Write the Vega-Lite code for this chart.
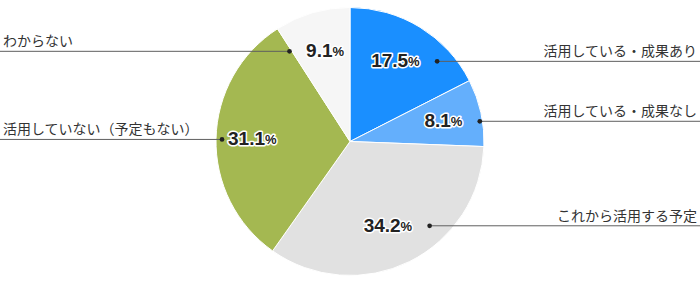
{
  "$schema": "https://vega.github.io/schema/vega-lite/v6.json",
  "width": 700,
  "height": 283,
  "padding": 0,
  "autosize": {"type": "none"},
  "background": "white",
  "config": {"view": {"stroke": null}},
  "data": {
    "values": [
      {"category": "活用している・成果あり", "value": 17.5, "rank": 1},
      {"category": "活用している・成果なし", "value": 8.1, "rank": 2},
      {"category": "これから活用する予定", "value": 34.2, "rank": 3},
      {"category": "活用していない（予定もない）", "value": 31.1, "rank": 4},
      {"category": "わからない", "value": 9.1, "rank": 5}
    ]
  },
  "layer": [
    {
      "mark": {"type": "arc", "outerRadius": 134, "stroke": "white", "strokeWidth": 1},
      "encoding": {
        "theta": {"field": "value", "type": "quantitative", "stack": true},
        "order": {"field": "rank", "type": "quantitative"},
        "color": {
          "field": "category",
          "type": "nominal",
          "legend": null,
          "scale": {
            "domain": ["活用している・成果あり", "活用している・成果なし", "これから活用する予定", "活用していない（予定もない）", "わからない"],
            "range": ["#1a8fff", "#64affc", "#e1e1e1", "#a4b851", "#f6f6f6"]
          }
        }
      }
    },
    {
      "transform": [
        {"joinaggregate": [{"op": "sum", "field": "value", "as": "total"}]},
        {"window": [{"op": "sum", "field": "value", "as": "cum"}], "sort": [{"field": "rank", "order": "ascending"}], "frame": [null, 0]},
        {"filter": "datum.cum - datum.value/2 <= datum.total/2"}
      ],
      "mark": {"type": "rule", "color": "#5f5f5f", "strokeWidth": 1},
      "encoding": {
        "x": {"value": {"expr": "width/2 + 94*sin(2*PI*(datum.cum - datum.value/2)/datum.total) + 38"}},
        "x2": {"value": "width"},
        "y": {"value": {"expr": "height/2 - 94*cos(2*PI*(datum.cum - datum.value/2)/datum.total)"}}
      }
    },
    {
      "transform": [
        {"joinaggregate": [{"op": "sum", "field": "value", "as": "total"}]},
        {"window": [{"op": "sum", "field": "value", "as": "cum"}], "sort": [{"field": "rank", "order": "ascending"}], "frame": [null, 0]},
        {"filter": "datum.cum - datum.value/2 > datum.total/2"}
      ],
      "mark": {"type": "rule", "color": "#5f5f5f", "strokeWidth": 1},
      "encoding": {
        "x": {"value": {"expr": "width/2 + 94*sin(2*PI*(datum.cum - datum.value/2)/datum.total) - 34"}},
        "x2": {"value": 0},
        "y": {"value": {"expr": "height/2 - 94*cos(2*PI*(datum.cum - datum.value/2)/datum.total)"}}
      }
    },
    {
      "transform": [
        {"joinaggregate": [{"op": "sum", "field": "value", "as": "total"}]},
        {"window": [{"op": "sum", "field": "value", "as": "cum"}], "sort": [{"field": "rank", "order": "ascending"}], "frame": [null, 0]}
      ],
      "mark": {"type": "point", "filled": true, "color": "#222222", "size": 22, "opacity": 1},
      "encoding": {
        "x": {"value": {"expr": "width/2 + 94*sin(2*PI*(datum.cum - datum.value/2)/datum.total) + (datum.cum - datum.value/2 <= datum.total/2 ? 38 : -34)"}},
        "y": {"value": {"expr": "height/2 - 94*cos(2*PI*(datum.cum - datum.value/2)/datum.total)"}}
      }
    },
    {
      "transform": [
        {"joinaggregate": [{"op": "sum", "field": "value", "as": "total"}]},
        {"window": [{"op": "sum", "field": "value", "as": "cum"}], "sort": [{"field": "rank", "order": "ascending"}], "frame": [null, 0]},
        {"filter": "datum.cum - datum.value/2 <= datum.total/2"}
      ],
      "mark": {"type": "text", "align": "right", "baseline": "alphabetic", "dx": -3, "dy": -5, "font": "Noto Sans CJK JP", "fontSize": 14, "color": "#333333"},
      "encoding": {
        "x": {"value": "width"},
        "y": {"value": {"expr": "height/2 - 94*cos(2*PI*(datum.cum - datum.value/2)/datum.total)"}},
        "text": {"field": "category"}
      }
    },
    {
      "transform": [
        {"joinaggregate": [{"op": "sum", "field": "value", "as": "total"}]},
        {"window": [{"op": "sum", "field": "value", "as": "cum"}], "sort": [{"field": "rank", "order": "ascending"}], "frame": [null, 0]},
        {"filter": "datum.cum - datum.value/2 > datum.total/2"}
      ],
      "mark": {"type": "text", "align": "left", "baseline": "alphabetic", "dx": 3, "dy": -5, "font": "Noto Sans CJK JP", "fontSize": 14, "color": "#333333"},
      "encoding": {
        "x": {"value": 0},
        "y": {"value": {"expr": "height/2 - 94*cos(2*PI*(datum.cum - datum.value/2)/datum.total)"}},
        "text": {"field": "category"}
      }
    },
    {
      "mark": {"type": "text", "radius": 94, "align": "right", "baseline": "middle", "dx": 9, "font": "Liberation Sans", "fontWeight": "bold", "fontSize": 19, "color": "white", "stroke": "white", "strokeWidth": 3, "strokeJoin": "round"},
      "encoding": {
        "theta": {"field": "value", "type": "quantitative", "stack": true},
        "order": {"field": "rank", "type": "quantitative"},
        "detail": {"field": "category", "type": "nominal"},
        "text": {"field": "value", "type": "quantitative", "format": ".1f"}
      }
    },
    {
      "mark": {"type": "text", "radius": 94, "align": "left", "baseline": "middle", "dx": 9, "dy": 1, "font": "Liberation Sans", "fontWeight": "bold", "fontSize": 13, "color": "white", "stroke": "white", "strokeWidth": 3, "strokeJoin": "round"},
      "encoding": {
        "theta": {"field": "value", "type": "quantitative", "stack": true},
        "order": {"field": "rank", "type": "quantitative"},
        "detail": {"field": "category", "type": "nominal"},
        "text": {"value": "%"}
      }
    },
    {
      "mark": {"type": "text", "radius": 94, "align": "right", "baseline": "middle", "dx": 9, "font": "Liberation Sans", "fontWeight": "bold", "fontSize": 19, "color": "#222222"},
      "encoding": {
        "theta": {"field": "value", "type": "quantitative", "stack": true},
        "order": {"field": "rank", "type": "quantitative"},
        "detail": {"field": "category", "type": "nominal"},
        "text": {"field": "value", "type": "quantitative", "format": ".1f"}
      }
    },
    {
      "mark": {"type": "text", "radius": 94, "align": "left", "baseline": "middle", "dx": 9, "dy": 1, "font": "Liberation Sans", "fontWeight": "bold", "fontSize": 13, "color": "#222222"},
      "encoding": {
        "theta": {"field": "value", "type": "quantitative", "stack": true},
        "order": {"field": "rank", "type": "quantitative"},
        "detail": {"field": "category", "type": "nominal"},
        "text": {"value": "%"}
      }
    }
  ]
}
